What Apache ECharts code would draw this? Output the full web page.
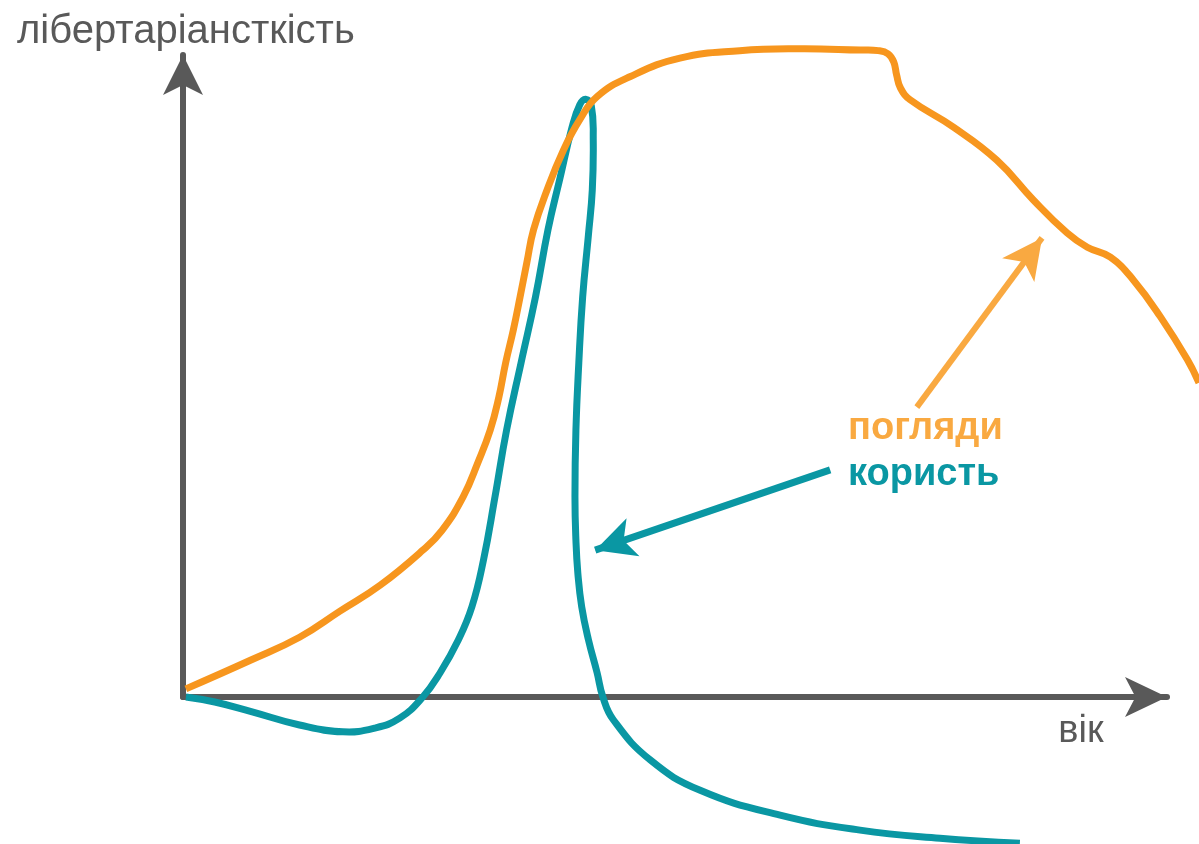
<!DOCTYPE html>
<html><head><meta charset="utf-8">
<script src="https://cdn.jsdelivr.net/npm/echarts@6/dist/echarts.min.js"></script>
<style>html,body{margin:0;padding:0;background:#fff}#c{width:1199px;height:844px}</style>
</head><body><div id="c"></div>
<script>
// Values (x: age, y: libertarianism; arbitrary 0..100-ish scales)
const viewsX = [0.3,7.0,12.1,16.3,20.5,24.9,26.9,29.1,30.6,31.9,32.8,33.5,34.3,35.0,35.7,36.4,37.8,39.5,41.2,43.0,46.4,51.6,57.8,64.1,70.3,72.2,73.2,73.8,74.1,74.5,75.5,80.0,84.5,88.3,91.8,93.9,96.3,98.7,101.5,104.3,105.5];
const viewsY = [1.3,5.9,9.6,13.8,18.0,23.6,26.8,32.2,37.6,42.9,48.2,53.7,59.0,64.3,69.8,75.1,81.5,87.9,92.8,96.5,99.7,102.7,103.9,104.2,104.0,103.9,103.4,102.1,100.0,97.9,96.0,91.6,86.3,79.9,74.6,72.3,70.7,67.0,61.1,54.2,50.5];
const benefitX = [0.3,3.3,7.0,12.1,16.6,19.9,22.5,24.9,26.7,28.6,30.0,31.2,32.4,33.6,35.1,36.6,37.9,39.1,40.4,41.2,41.8,42.4,42.6,42.5,42.1,41.5,41.1,40.8,40.7,40.8,41.0,41.4,42.1,43.0,43.6,44.7,48.5,53.7,62.0,70.3,78.6,86.9];
const benefitY = [0,-0.8,-2.3,-4.5,-5.6,-5.0,-3.4,0,3.9,9.2,14.5,22.0,32.2,42.9,53.7,64.3,75.1,83.1,91.6,95.2,96.1,95.0,89.5,81.5,74.3,64.3,53.7,42.9,32.2,25.2,19.9,14.5,9.2,3.9,0,-3.7,-10.1,-15.0,-19.0,-21.4,-22.7,-23.5];
const viewsArrow = [[76.2,46.6],[89.2,73.8]];
const benefitArrow = [[67.2,36.5],[42.8,23.6]];
const labels = {yName:'лібертаріансткість', xName:'вік', views:'погляди', benefit:'користь'};

const ORANGE='#F7961E', ORANGE_L='#F9A941', TEAL='#0A97A3', GREY='#595959';
const FONT='Liberation Sans, Arial, sans-serif';
const zip=(a,b)=>a.map((v,i)=>[v,b[i]]);
const hiddenAxis = {splitLine:{show:false},axisLabel:{show:false},axisTick:{show:false},axisLine:{show:false}};

function curveSeries(xs, ys, color, z, arrow, arrowColor, arrowWidth){
  const pts = zip(xs, ys);
  return {
    type:'custom', xAxisIndex:1, yAxisIndex:1, z:z, clip:false, silent:true,
    data:[pts[0]],
    renderItem:(params, api)=>({
      type:'polyline',
      shape:{points: pts.map(p=>api.coord(p)), smooth:0.45},
      style:{stroke:color, lineWidth:7, fill:null, lineJoin:'round'}
    }),
    markLine:{silent:true,symbol:['none','arrow'],symbolSize:[30,40],label:{show:false},
      lineStyle:{color:arrowColor,width:arrowWidth,type:'solid'},
      data:[[{coord:arrow[0]},{coord:arrow[1]}]]}
  };
}

const chart = echarts.init(document.getElementById('c'));
chart.setOption({
  animation:false,
  grid:[
    {left:183,right:32,top:55,bottom:147,outerBoundsMode:'none'},
    {left:183,right:0,top:55,bottom:147,outerBoundsMode:'none'}
  ],
  xAxis:[
    {gridIndex:0,type:'value',min:0,max:102.2,splitLine:{show:false},axisLabel:{show:false},axisTick:{show:false},
     axisLine:{onZero:false,lineStyle:{color:GREY,width:6},symbol:['none','arrow'],symbolSize:[30,42]}},
    Object.assign({gridIndex:1,type:'value',min:0,max:105.5},hiddenAxis)
  ],
  yAxis:[
    {gridIndex:0,type:'value',min:0,max:103.2,splitLine:{show:false},axisLabel:{show:false},axisTick:{show:false},
     axisLine:{onZero:false,lineStyle:{color:GREY,width:6},symbol:['none','arrow'],symbolSize:[30,40]}},
    Object.assign({gridIndex:1,type:'value',min:0,max:103.2},hiddenAxis)
  ],
  graphic:[
    {type:'text',left:17,top:12,style:{text:labels.yName,fill:GREY,font:'40px '+FONT}},
    {type:'text',x:1081,y:732,style:{text:labels.xName,fill:GREY,font:'38px '+FONT,align:'center',verticalAlign:'middle'}},
    {type:'text',x:848,y:429,style:{text:labels.views,fill:ORANGE_L,font:'bold 38px '+FONT,verticalAlign:'middle'}},
    {type:'text',x:848,y:475,style:{text:labels.benefit,fill:TEAL,font:'bold 38px '+FONT,verticalAlign:'middle'}}
  ],
  series:[
    curveSeries(viewsX, viewsY, ORANGE, 3, viewsArrow, ORANGE_L, 6),
    curveSeries(benefitX, benefitY, TEAL, 2, benefitArrow, TEAL, 7)
  ]
});
</script></body></html>
